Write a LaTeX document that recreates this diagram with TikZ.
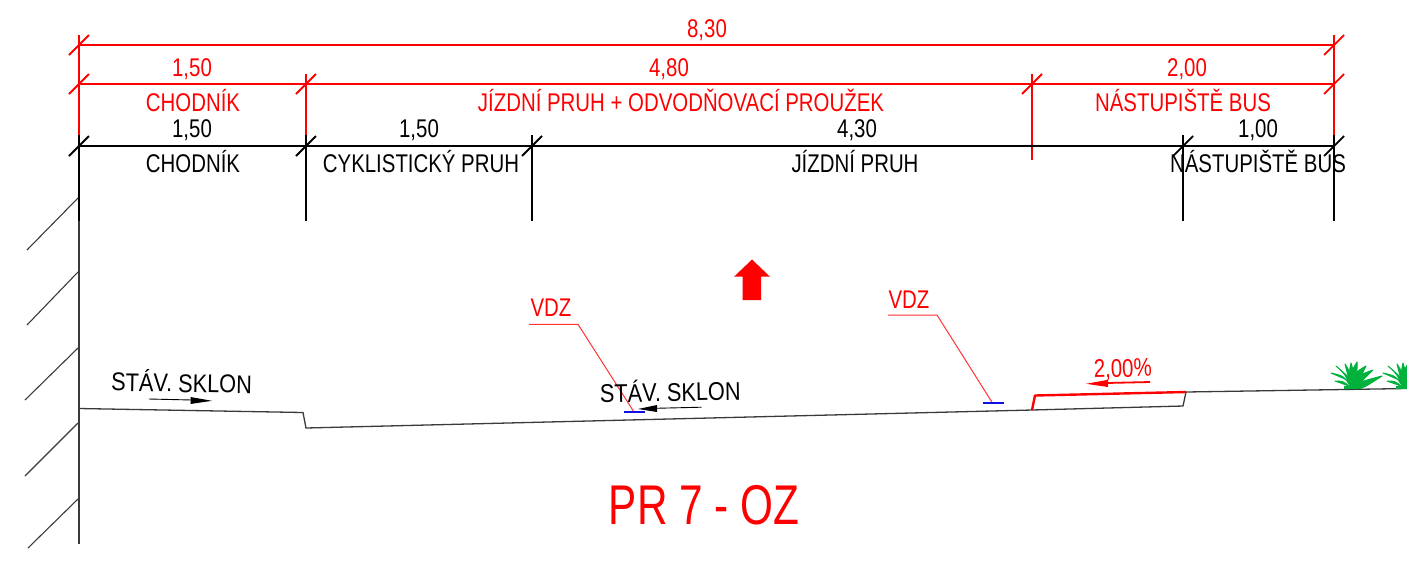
\documentclass[tikz,border=0pt]{standalone}
\usepackage{fontspec}
\setmainfont{Liberation Sans}
\definecolor{plantgreen}{HTML}{00B13C}
\definecolor{groundgray}{HTML}{3A3A3A}
\definecolor{vdzblue}{HTML}{1010E0}
\newcommand{\cadtext}[1]{\scalebox{0.797}[1]{\fontsize{12.8}{15}\selectfont #1}}
\newcommand{\slopetext}[1]{\scalebox{0.85}[1]{\fontsize{12.8}{15}\selectfont #1}}
\newcommand{\titletext}[1]{\scalebox{0.755}[1]{\fontsize{28}{32}\selectfont #1}}
\tikzset{
  dimred/.style={draw=red,line width=0.9pt},
  dimblack/.style={draw=black,line width=0.9pt},
  thinline/.style={draw=groundgray,line width=0.55pt},
  leader/.style={draw=red!80,line width=0.5pt},
  lbl/.style={inner sep=0pt,text=black,anchor=base},
  rlbl/.style={inner sep=0pt,text=red,anchor=base},
  leaf/.style={fill=plantgreen,draw=plantgreen,line width=0.5pt,line join=round},
}
\begin{document}
\begin{tikzpicture}[x=0.5pt,y=-0.5pt]
\useasboundingbox (0,0) rectangle (1407,563);
% hatching and wall
\foreach \a/\b/\c/\d in {27/250/78/198, 27/325/78/272, 25/400/78/348, 25/476/78/423, 28/548/78/499}
  \draw[thinline] (\a,\b) -- (\c,\d);
\draw[thinline] (79,221) -- (79,544);
% extension lines
\draw[dimred] (79,35) -- (79,135);
\draw[dimred] (306,74) -- (306,135);
\draw[dimred] (1032,74) -- (1032,160);
\draw[dimred] (1334,35) -- (1334,135);
\foreach \x in {79,306,532,1183,1334}
  \draw[dimblack] (\x,135) -- (\x,221);
% dimension lines
\draw[dimred] (79,45) -- (1334,45);
\draw[dimred] (79,84) -- (1334,84);
\draw[dimblack] (79,146) -- (1334,146);
% ticks
\foreach \x/\y in {79/45,1334/45,79/84,306/84,1032/84,1334/84}
  \draw[dimred] (\x-10,\y+10) -- (\x+10,\y-10);
\foreach \x in {79,306,532,1183,1334}
  \draw[dimblack] (\x-10,156) -- (\x+10,136);
% ground
\draw[thinline,line width=0.65pt] (79,408.5) -- (303,412.5) -- (306,428) -- (1032,410) -- (1183,406) -- (1186,392) -- (1407,388.5);
\draw[draw=red,line width=1.2pt,line join=round] (1032,410) -- (1035,395.5) -- (1186,392);
% VDZ
\draw[leader] (529,324.3) -- (578,324.3) -- (634,412);
\draw[leader] (888,315) -- (937,315) -- (992.5,403);
\draw[draw=vdzblue,line width=1.1pt] (624,412) -- (645,412);
\draw[draw=vdzblue,line width=1.1pt] (983,403) -- (1003.5,403);
% slope arrows
\draw[draw=black,line width=0.45pt] (149,399) -- (192,400);
\fill[black] (212,400.8) -- (190.5,397) -- (190.5,404) -- cycle;
\draw[draw=black,line width=0.45pt] (701.5,407.2) -- (655,408.3);
\fill[black] (638,409) -- (657,405) -- (657,412) -- cycle;
\draw[draw=red,line width=0.9pt] (1150,382) -- (1106,383);
\fill[red] (1086,383.8) -- (1108,379.8) -- (1108,387) -- cycle;
% big arrow
\fill[red] (752,259.5) -- (770,276.7) -- (761,276.7) -- (761,300) -- (742.7,300) -- (742.7,276.7) -- (734,276.7) -- cycle;
% plants
\foreach \px in {1353,1405}{
  \foreach \ex/\ey/\cx/\cy in {-22/-15/-6/-10, -18/-7/-7/-5, -17/-22/-5/-12, -8/-24/-3/-14, -2/-25/-1/-14, 4/-26/1/-14, 13/-22/4/-13, 20/-18/6/-10, 29/-12/9/-4, 20/-7/8/-3}
    \path[leaf] (\px-1.5,388) .. controls (\px+\cx-3,388+\cy-2) .. (\px+\ex,388+\ey) .. controls (\px+\cx+3,388+\cy+3) .. (\px+1.5,388) -- cycle;
  \draw[draw=plantgreen,line width=1.3pt] (\px-9,387.5) -- (\px+9,387.5);
}
% texts
\node[rlbl] (t830) at (707,37) {\cadtext{8,30}};
\node[rlbl] (t150r) at (192,76) {\cadtext{1,50}};
\node[rlbl] (t480) at (669,76) {\cadtext{4,80}};
\node[rlbl] (t200) at (1187,76) {\cadtext{2,00}};
\node[rlbl] (tchr) at (193,111) {\cadtext{CHODNÍK}};
\node[rlbl] (tjp) at (681,111) {\cadtext{JÍZDNÍ PRUH + ODVODŇOVACÍ PROUŽEK}};
\node[rlbl] (tnbr) at (1183,111) {\cadtext{NÁSTUPIŠTĚ BUS}};
\node[lbl] (t150a) at (192,137) {\cadtext{1,50}};
\node[lbl] (t150b) at (419,137) {\cadtext{1,50}};
\node[lbl] (t430) at (857,137) {\cadtext{4,30}};
\node[lbl] (t100) at (1258,137) {\cadtext{1,00}};
\node[lbl] (tch) at (193,172) {\cadtext{CHODNÍK}};
\node[lbl] (tcp) at (421,172) {\cadtext{CYKLISTICKÝ PRUH}};
\node[lbl] (tj) at (855,172) {\cadtext{JÍZDNÍ PRUH}};
\node[lbl] (tnb) at (1258,172) {\cadtext{NÁSTUPIŠTĚ BUS}};
\node[rlbl] (tv1) at (551,316.7) {\cadtext{VDZ}};
\node[rlbl] (tv2) at (909,308) {\cadtext{VDZ}};
\node[lbl,rotate=-1] (ts1) at (181.5,392.2) {\slopetext{STÁV. SKLON}};
\node[lbl,rotate=1] (ts2) at (670.5,401.3) {\slopetext{STÁV. SKLON}};
\node[rlbl,rotate=1.5] (tpct) at (1123,377) {\cadtext{2,00\%}};
\node[rlbl] (ttitle) at (704,524) {\titletext{PR 7 - OZ}};
\end{tikzpicture}
\end{document}
